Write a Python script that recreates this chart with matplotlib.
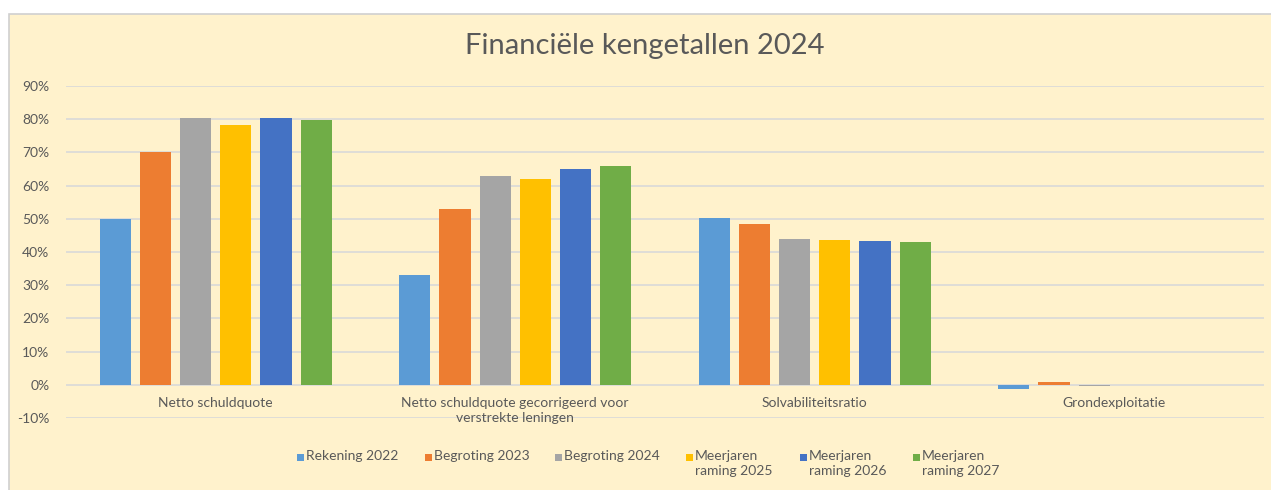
import matplotlib.pyplot as plt
from matplotlib.patches import Rectangle
import numpy as np

plt.rcParams['font.family'] = ['Lato', 'DejaVu Sans']

categories = ['Netto schuldquote',
              'Netto schuldquote gecorrigeerd voor\nverstrekte leningen',
              'Solvabiliteitsratio',
              'Grondexploitatie']
series = ['Rekening 2022', 'Begroting 2023', 'Begroting 2024',
          'Meerjaren\nraming 2025', 'Meerjaren\nraming 2026', 'Meerjaren\nraming 2027']
rekening_2022 = [50.0, 33.0, 50.3, -1.2]
begroting_2023 = [70.1, 53.0, 48.5, 0.8]
begroting_2024 = [80.3, 62.8, 43.9, -0.3]
raming_2025 = [78.4, 61.9, 43.6, 0.0]
raming_2026 = [80.3, 65.0, 43.2, 0.0]
raming_2027 = [79.9, 65.8, 42.9, 0.0]
values = [rekening_2022, begroting_2023, begroting_2024, raming_2025, raming_2026, raming_2027]
colors = ['#5B9BD5', '#ED7D31', '#A5A5A5', '#FFC000', '#4472C4', '#70AD47']
yticks = list(range(-10, 91, 10))

bg = '#FFF2CC'
txt = '#595959'

fig = plt.figure(figsize=(12.71, 4.90), dpi=100)
fig.patch.set_facecolor('white')
# chart area frame
fig.patches.append(Rectangle((9/1271, -0.01), 1.02 - 9/1271, 1.01 - 14/490, transform=fig.transFigure,
                             facecolor=bg, edgecolor='#D0D0D0', linewidth=1.2, zorder=-5))

ax = fig.add_axes([66/1271, 72/490, (1264-66)/1271, (418-86)/490])
ax.patch.set_alpha(0)

x = np.arange(len(categories))
step = 0.134
width = 0.104
for i, (vals, col) in enumerate(zip(values, colors)):
    ax.bar(x + (i - 2.5) * step, vals, width, color=col, zorder=3)

ax.set_xlim(-0.5, len(categories) - 0.5)
ax.set_ylim(-10, 90)
ax.set_yticks(yticks)
ax.set_yticklabels([f'{v}%' for v in yticks], color=txt, fontsize=10)
ax.tick_params(axis='y', length=0, pad=12)
ax.set_xticks([])
ax.grid(axis='y', color='#D9D9D9', linewidth=1.2, zorder=0)
for s in ax.spines.values():
    s.set_visible(False)

for i, cat in enumerate(categories):
    ax.annotate(cat, (i, 0), xytext=(0, -9), textcoords='offset points',
                ha='center', va='top', color=txt, fontsize=10, linespacing=1.25)

fig.text(645/1271, 1 - 46/490, 'Financiële kengetallen 2024', ha='center', va='center',
         color=txt, fontsize=21)

# legend
leg_x = [297, 425, 555, 686, 800, 913]
for lx, name, col in zip(leg_x, series, colors):
    fig.patches.append(Rectangle((lx/1271, 1 - 461/490), 7/1271, 7/490,
                                 transform=fig.transFigure, facecolor=col, edgecolor='none'))
    fig.text((lx + 9)/1271, 1 - 450/490, name, ha='left', va='top', color=txt,
             fontsize=10, linespacing=1.3)

fig.savefig('out.png', dpi=100, facecolor='white')
